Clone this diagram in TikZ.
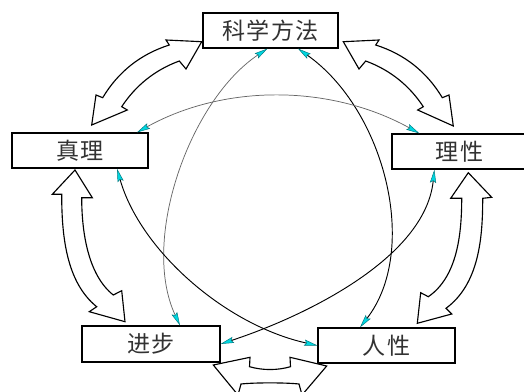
\documentclass[tikz,border=0pt]{standalone}
\usepackage{fontspec}
\newfontfamily\cjk[LetterSpace=6]{Noto Sans CJK SC}
\usetikzlibrary{arrows.meta,calc}
\definecolor{arrcyan}{RGB}{0,215,225}
\definecolor{txtgray}{RGB}{50,50,50}
\tikzset{cytip/.tip={Stealth[length=10pt,width=4.6pt,inset=1.5pt,color=arrcyan!55!black,fill=arrcyan,line width=0.35pt]}}
\begin{document}
\begin{tikzpicture}[x=0.75pt,y=-0.75pt,
  box/.style={draw=black, line width=0.9pt, fill=white, minimum width=101.25pt,
    minimum height=26.25pt, inner sep=0pt, font=\cjk\fontsize{17.3pt}{20pt}\selectfont, text=txtgray},
  blk/.style={draw=black, line width=0.85pt, fill=white, line join=miter},
  thinb/.style={draw=black, line width=0.7pt, arrows={cytip-cytip}},
  thing/.style={draw=black!60, line width=0.55pt, arrows={cytip-cytip}}]
\useasboundingbox (0,0) rectangle (524,392);
\clip (0,0) rectangle (524,392);

% boxes
\node[box] (K) at (270.5,30.5) {科学方法};
\node[box, minimum width=102pt] (Z) at (80,150.5) {真理\hspace{10.5pt}};
\node[box] (L) at (459.5,151.5) {理性};
\node[box, minimum width=103.5pt, minimum height=27pt] (J) at (151,344) {进步};
\node[box, minimum width=102.75pt] (R) at (386.5,345.5) {人性};

% block arrows
% K <-> Z
\draw[blk] (201.7,41.7) -- (166,40) -- (169.3,45)
  .. controls (140.5,54.2) and (118.3,71.7) .. (102.7,97.7) -- (96,95) -- (91.7,125)
  -- (127.3,110) -- (121.7,106.7)
  .. controls (135.9,85.2) and (155.1,69.9) .. (179.3,61) -- (186,69) -- cycle;
% K <-> L
\draw[blk] (343.3,41.7) -- (379,40) -- (375.7,45)
  .. controls (404.5,54.2) and (426.7,71.7) .. (442.3,97.7) -- (449,95) -- (453.3,126)
  -- (417.7,110) -- (423.3,106.7)
  .. controls (409.1,85.2) and (389.9,69.9) .. (365.7,61) -- (359,69) -- cycle;
% L <-> R
\draw[blk] (468.3,172.7) -- (491.7,197.3) -- (482.7,198.3)
  .. controls (482.7,238) and (479,284) .. (446,308.3) -- (451.7,314) -- (417.3,323.3)
  -- (420.7,292.7) -- (428.3,296.7)
  .. controls (457,277) and (461.7,235) .. (461.7,198.3) -- (450.7,198.3) -- cycle;
% Z <-> J
\draw[blk] (75,170) -- (52.3,194.3) -- (61.7,194.3)
  .. controls (61.7,235) and (66,282) .. (96.7,306.7) -- (89.3,311.7) -- (125,321.7)
  -- (121.7,290.7) -- (113.3,295)
  .. controls (88,275) and (81.7,232) .. (81.7,197.7) -- (92.3,197.7) -- cycle;
% J <-> R
\draw[blk] (213.3,365) -- (250,357.3) -- (249.5,366.7)
  .. controls (263,370.5) and (277,370.5) .. (290.5,366.7) -- (290,357.3) -- (326.7,366)
  -- (302,395) -- (299,384)
  .. controls (285,382.5) and (255,382.5) .. (241,384) -- (238,395) -- cycle;

% thin connectors
\draw[thing] ($(K.south)+(-3,0)$) .. controls (190,100) and (140,240) .. ($(J.north)+(29,0)$);
\draw[thinb] ($(K.south)+(27.5,0)$) .. controls (385,110) and (420,250) .. ($(R.north)+(-26.5,0)$);
\draw[thinb] ($(Z.south)+(37,0)$) .. controls (140,250) and (225,325) .. (R.west);
\draw[thinb] ($(L.south west)+(43,0)$) .. controls (425,260) and (300,318) .. (J.east);
\draw[thing] ($(L.north west)+(28,0)$) .. controls (330,84) and (224,84) .. ($(Z.north)+(57,0)$);
\end{tikzpicture}
\end{document}
